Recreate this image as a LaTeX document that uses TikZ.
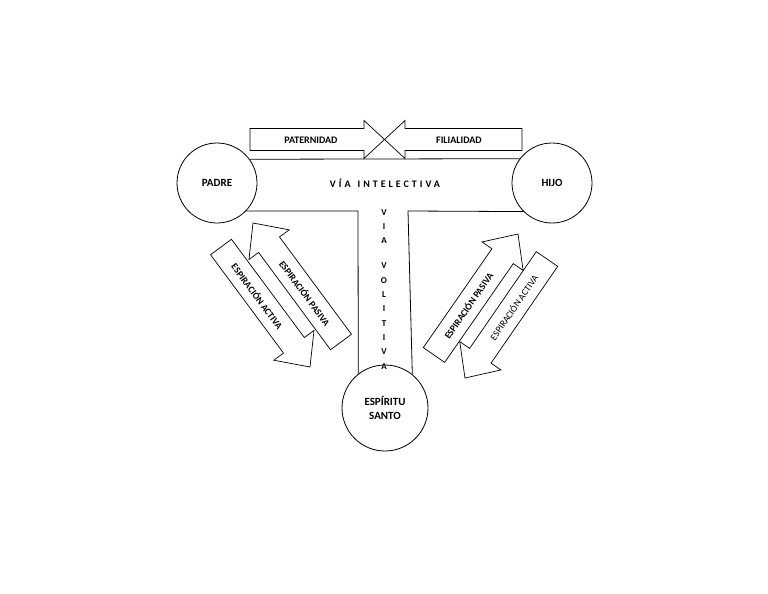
\documentclass[tikz,border=0pt]{standalone}
\usepackage{fontspec}
\setmainfont{Carlito}
\usetikzlibrary{calc}
\tikzset{
  circ/.style={draw, circle, minimum size=80pt, inner sep=0pt, line width=0.8pt, fill=white},
  band/.style={line width=0.8pt},
  arr/.style={draw, fill=white, line width=0.7pt, line join=miter},
  lab/.style={font=\fontsize{9.5}{10}\selectfont\bfseries, inner sep=0pt},
  labr/.style={font=\fontsize{9.5}{10}\selectfont, inner sep=0pt},
}
% name, tail, tip, shaft half width, head half width, head length
\newcommand{\fatarrow}[6]{%
  \coordinate (#1-b) at ($(#3)!#6!(#2)$);
  \draw[arr] ($(#2)!#4!90:(#3)$) -- ($(#1-b)!#4!-90:(#2)$) -- ($(#1-b)!#5!-90:(#2)$)
    -- (#3) -- ($(#1-b)!#5!90:(#2)$) -- ($(#1-b)!#4!90:(#2)$) -- ($(#2)!#4!-90:(#3)$) -- cycle;
}
\begin{document}
\begin{tikzpicture}[x=1pt,y=-1pt]
\useasboundingbox (0,0) rectangle (768,594);

% circles
\node[circ] (padre) at (217,183) {};
\node[circ] (hijo) at (552,183) {};
\node[circ, minimum size=86pt] (es) at (385,408) {};
\node[font=\fontsize{11}{12}\selectfont\bfseries] (padret) at (padre.center) {PADRE};
\node[font=\fontsize{11}{12}\selectfont\bfseries] (hijot) at (hijo.center) {HIJO};
\node[font=\fontsize{11}{14}\selectfont\bfseries, align=center] (est) at (es.center) {ESPÍRITU\\SANTO};

% T-shaped band
\coordinate (bl) at (358,211);
\coordinate (br) at (408,211);
\draw[band] (padre.36.87) -- (hijo.143.13);
\draw[band] (padre.-44.4) -- (bl) -- (es.128.9);
\draw[band] (hijo.-135.6) -- (br) -- (es.51.1);

\node[font=\fontsize{10}{12}\selectfont\bfseries\addfontfeature{LetterSpace=30}] (vi) at (385,183) {VÍA\hspace{7pt}INTELECTIVA};
\node[font=\fontsize{9}{14.3}\selectfont\bfseries, align=center, inner sep=0pt, anchor=north] (vv) at (384,209)
  {V\\I\\A\\[11pt]V\\O\\L\\I\\T\\I\\V\\A};

% top arrows: heads meet tip to tip
\coordinate (pt) at (250,139.5);
\coordinate (ft) at (522,139.5);
\coordinate (mid) at (384.5,139.5);
\fatarrow{pa}{pt}{mid}{11pt}{19pt}{20.5pt}
\fatarrow{fi}{ft}{mid}{11pt}{19pt}{20.5pt}
\node[lab, font=\fontsize{10}{10}\selectfont\bfseries] (pat) at (311,140) {PATERNIDAD};
\node[lab, font=\fontsize{10}{10}\selectfont\bfseries] (fil) at (459,140) {FILIALIDAD};

% left arrows
\coordinate (lpt) at (341,342);
\coordinate (lph) at (253,223);
\coordinate (lat) at (221,247);
\coordinate (lah) at (310,367);
\fatarrow{lp}{lpt}{lph}{13pt}{25pt}{27pt}
\fatarrow{la}{lat}{lah}{13pt}{25pt}{27pt}
\node[lab, rotate=-53.5] (lpl) at ($(lpt)!0.5!(lp-b)$) {ESPIRACIÓN PASIVA};
\node[lab, rotate=-53.5] (lal) at ($(lat)!0.5!(la-b)$) {ESPIRACIÓN ACTIVA};

% right arrows
\coordinate (rpt) at (434,355);
\coordinate (rph) at (518,234);
\coordinate (rat) at (547,259);
\coordinate (rah) at (465,378);
\fatarrow{rp}{rpt}{rph}{13pt}{25pt}{27pt}
\fatarrow{ra}{rat}{rah}{13pt}{25pt}{27pt}
\node[lab, rotate=55.2] (rpl) at ($(rpt)!0.5!(rp-b)$) {ESPIRACIÓN PASIVA};
\node[labr, rotate=55.5] (ral) at ($(rat)!0.5!(ra-b)$) {ESPIRACIÓN ACTIVA};
\end{tikzpicture}
\end{document}
